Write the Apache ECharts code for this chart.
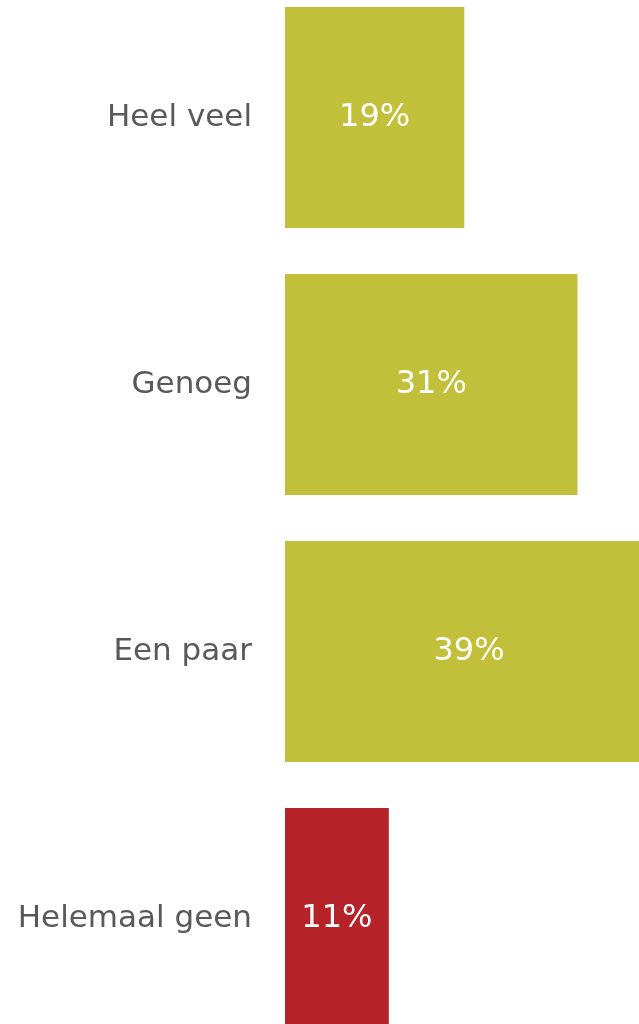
<!DOCTYPE html>
<html>
<head>
<meta charset="utf-8">
<script src="https://cdn.jsdelivr.net/npm/echarts@6/dist/echarts.min.js"></script>
<style>
html, body { margin: 0; padding: 0; background: #fff; }
#chart { width: 639px; height: 1024px; }
</style>
</head>
<body>
<div id="chart"></div>
<script>
var categories = ['Heel veel', 'Genoeg', 'Een paar', 'Helemaal geen']
var values = [19, 31, 39, 11]
var barColors = ['#c2bf3a', '#c2bf3a', '#c2bf3a', '#b52228']

var myChart = echarts.init(document.getElementById('chart'))
myChart.setOption({
	animation: false,
	grid: {
		left: 285,
		top: -16,
		width: 368,
		height: 1068,
		outerBoundsMode: 'none',
		containLabel: false,
	},
	xAxis: {
		type: 'value',
		min: 0,
		max: 39,
		show: false,
	},
	yAxis: {
		type: 'category',
		inverse: true,
		data: categories,
		axisLine: { show: false },
		axisTick: { show: false },
		axisLabel: {
			margin: 33,
			color: '#595959',
			fontSize: 31,
			fontFamily: 'DejaVu Sans',
		},
	},
	series: [
		{
			type: 'bar',
			barCategoryGap: '17.2%',
			data: values.map(function (v, i) {
				return { value: v, itemStyle: { color: barColors[i] } }
			}),
			label: {
				show: true,
				position: 'inside',
				formatter: '{c}%',
				color: '#fff',
				fontSize: 32,
				fontFamily: 'DejaVu Sans',
			},
		},
	],
})
</script>
</body>
</html>
